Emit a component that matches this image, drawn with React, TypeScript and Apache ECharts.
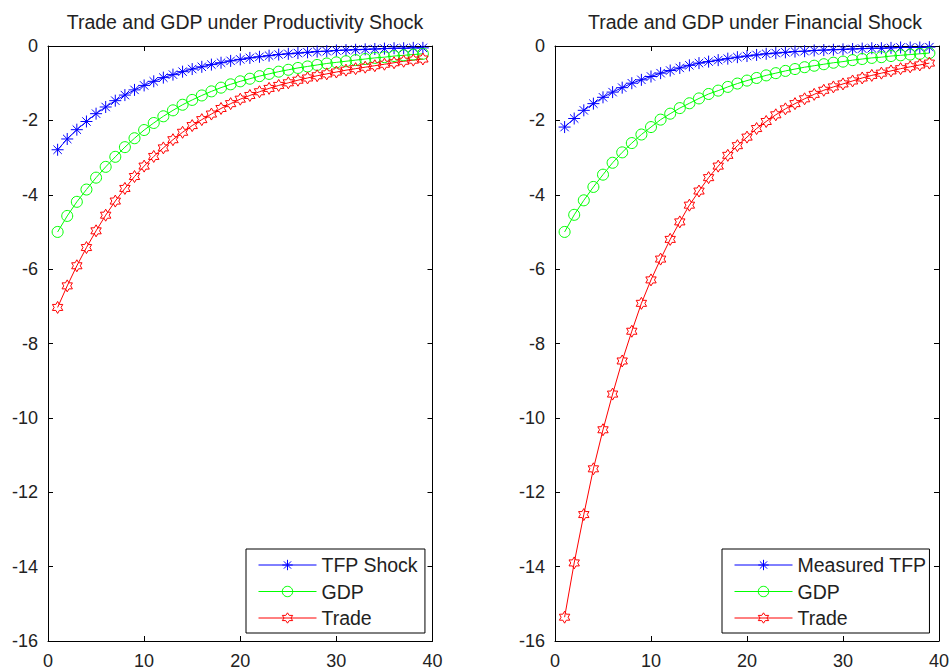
import { useEffect, useRef } from "react";
import * as echarts from "echarts";

// ---- data ----
const periods = [1, 2, 3, 4, 5, 6, 7, 8, 9, 10, 11, 12, 13, 14, 15, 16, 17, 18, 19, 20, 21, 22, 23, 24, 25, 26, 27, 28, 29, 30, 31, 32, 33, 34, 35, 36, 37, 38, 39];

const tfpLeft = [-2.79, -2.50, -2.25, -2.03, -1.82, -1.64, -1.47, -1.32, -1.18, -1.06, -0.95, -0.85, -0.77, -0.69, -0.62, -0.56, -0.50, -0.45, -0.40, -0.36, -0.32, -0.29, -0.26, -0.23, -0.21, -0.19, -0.17, -0.15, -0.14, -0.12, -0.11, -0.10, -0.09, -0.08, -0.07, -0.06, -0.06, -0.05, -0.05];
const gdpLeft = [-5.00, -4.57, -4.19, -3.86, -3.54, -3.25, -2.98, -2.72, -2.48, -2.26, -2.07, -1.89, -1.73, -1.58, -1.45, -1.33, -1.22, -1.12, -1.03, -0.95, -0.88, -0.81, -0.75, -0.69, -0.64, -0.59, -0.55, -0.51, -0.47, -0.44, -0.41, -0.38, -0.35, -0.32, -0.30, -0.27, -0.25, -0.23, -0.21];
const tradeLeft = [-7.03, -6.45, -5.91, -5.42, -4.97, -4.55, -4.17, -3.83, -3.51, -3.23, -2.97, -2.74, -2.52, -2.32, -2.14, -1.98, -1.83, -1.68, -1.55, -1.43, -1.33, -1.23, -1.14, -1.06, -0.99, -0.92, -0.86, -0.80, -0.75, -0.70, -0.65, -0.61, -0.57, -0.53, -0.49, -0.45, -0.41, -0.38, -0.35];

const tfpRight = [-2.18, -1.95, -1.73, -1.55, -1.38, -1.24, -1.12, -1.00, -0.91, -0.82, -0.73, -0.66, -0.59, -0.52, -0.46, -0.42, -0.38, -0.34, -0.30, -0.27, -0.24, -0.21, -0.19, -0.17, -0.15, -0.14, -0.12, -0.11, -0.10, -0.09, -0.08, -0.07, -0.06, -0.06, -0.05, -0.04, -0.04, -0.04, -0.03];
const gdpRight = [-5.00, -4.54, -4.15, -3.79, -3.46, -3.14, -2.86, -2.61, -2.38, -2.18, -1.98, -1.82, -1.67, -1.54, -1.41, -1.29, -1.20, -1.10, -1.01, -0.93, -0.86, -0.79, -0.73, -0.67, -0.62, -0.57, -0.53, -0.49, -0.45, -0.42, -0.38, -0.35, -0.32, -0.30, -0.27, -0.25, -0.23, -0.21, -0.19];
const tradeRight = [-15.36, -13.90, -12.60, -11.37, -10.32, -9.36, -8.47, -7.67, -6.92, -6.29, -5.73, -5.20, -4.73, -4.28, -3.90, -3.54, -3.23, -2.94, -2.68, -2.45, -2.22, -2.03, -1.85, -1.69, -1.55, -1.42, -1.30, -1.19, -1.10, -1.02, -0.94, -0.86, -0.79, -0.73, -0.67, -0.61, -0.56, -0.51, -0.46];

const titles = ["Trade and GDP under Productivity Shock", "Trade and GDP under Financial Shock"];
const legendLeft = ["TFP Shock", "GDP", "Trade"];
const legendRight = ["Measured TFP", "GDP", "Trade"];

// ---- styling ----
const FONT = "'Liberation Sans', Arial, Helvetica, sans-serif";
const TEXT = "#222";
const ASTERISK = "path://M5,0L5,10M0,5L10,5M1.5,1.5L8.5,8.5M1.5,8.5L8.5,1.5";
const HEXAGRAM =
  "path://M5,0L6.443,2.5L9.33,2.5L7.887,5L9.33,7.5L6.443,7.5L5,10L3.557,7.5L0.67,7.5L2.113,5L0.67,2.5L3.557,2.5Z";

const pairs = (ys: number[]) => periods.map((x, i) => [x, ys[i]]);

function makeSeries(name: string, ys: number[], color: string, symbol: string, size: number, axis: number) {
  return {
    type: "line",
    name,
    xAxisIndex: axis,
    yAxisIndex: axis,
    data: pairs(ys),
    symbol,
    symbolSize: size,
    symbolKeepAspect: true,
    showAllSymbol: true,
    lineStyle: { color, width: 1 },
    itemStyle: { color: "rgba(0,0,0,0)", borderColor: color, borderWidth: 1 },
    emphasis: { disabled: true },
    silent: true,
  };
}

function axisPair(kind: "x" | "y", grid: number) {
  const base: any = {
    type: "value",
    gridIndex: grid,
    min: kind === "x" ? 0 : -16,
    max: kind === "x" ? 40 : 0,
    interval: kind === "x" ? 10 : 2,
    axisLine: { show: true, onZero: false, lineStyle: { color: "#000", width: 1 } },
    axisTick: { show: true, inside: true, length: 5, lineStyle: { color: "#000", width: 1 } },
    splitLine: { show: false },
  };
  const primary = {
    ...base,
    position: kind === "x" ? "bottom" : "left",
    axisLabel: {
      show: true,
      fontSize: 18,
      fontFamily: FONT,
      color: TEXT,
      margin: kind === "x" ? 11 : 10,
    },
  };
  const secondary = {
    ...base,
    position: kind === "x" ? "top" : "right",
    axisLabel: { show: false },
  };
  return [primary, secondary];
}

function makeLegend(data: string[], left: number, padRight: number) {
  return {
    data,
    orient: "vertical",
    left,
    top: 549,
    itemWidth: 58,
    itemHeight: 13,
    itemGap: 6.5,
    padding: [6, padRight, 5, 12],
    backgroundColor: "#fff",
    borderColor: "#000",
    borderWidth: 1,
    borderRadius: 0,
    selectedMode: false,
    itemStyle: { borderWidth: 1 },
    lineStyle: { width: 1 },
    textStyle: { fontSize: 19.5, fontFamily: FONT, color: TEXT, lineHeight: 20 },
  };
}

export default function App() {
  const ref = useRef<HTMLDivElement>(null);
  useEffect(() => {
    if (!ref.current) return;
    const chart = echarts.init(ref.current, undefined, { renderer: "svg" });
    const option: any = {
      animation: false,
      backgroundColor: "#fff",
      title: [
        {
          text: titles[0],
          left: 245,
          top: 12,
          textAlign: "center",
          padding: 0,
          textStyle: { fontSize: 19.5, fontWeight: "normal", fontFamily: FONT, color: TEXT },
        },
        {
          text: titles[1],
          left: 755,
          top: 12,
          textAlign: "center",
          padding: 0,
          textStyle: { fontSize: 19.5, fontWeight: "normal", fontFamily: FONT, color: TEXT },
        },
      ],
      grid: [
        { left: 48, top: 46, width: 384.5, height: 597 },
        { left: 555, top: 46, width: 386, height: 597 },
      ],
      xAxis: [...axisPair("x", 0), ...axisPair("x", 1)],
      yAxis: [...axisPair("y", 0), ...axisPair("y", 1)],
      legend: [makeLegend(legendLeft, 246, 7), makeLegend(legendRight, 722, 3)],
      series: [
        makeSeries(legendLeft[0], tfpLeft, "#0000ff", ASTERISK, 12, 0),
        makeSeries(legendLeft[1], gdpLeft, "#00ff00", "circle", 11, 0),
        makeSeries(legendLeft[2], tradeLeft, "#ff0000", HEXAGRAM, 12, 0),
        makeSeries(legendRight[0], tfpRight, "#0000ff", ASTERISK, 12, 2),
        makeSeries(legendRight[1], gdpRight, "#00ff00", "circle", 11, 2),
        makeSeries(legendRight[2], tradeRight, "#ff0000", HEXAGRAM, 12, 2),
      ],
    };
    chart.setOption(option);
    return () => chart.dispose();
  }, []);
  return (
    <div
      ref={ref}
      style={{ position: "fixed", left: 0, top: 0, width: 952, height: 670, background: "#fff" }}
    />
  );
}
